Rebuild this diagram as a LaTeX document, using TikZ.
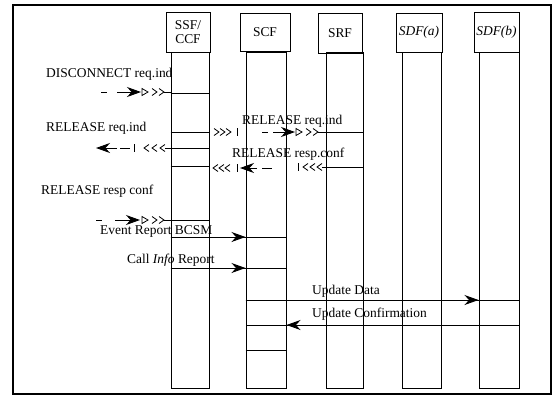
\documentclass[tikz,border=0pt]{standalone}
\usepackage{fontspec}
\setmainfont{Liberation Serif}
\usetikzlibrary{arrows.meta}
\newcommand\colline[2]{\draw[ln] (#1.west|-0,#2) -- (#1.east|-0,#2);}
\begin{document}
\begin{tikzpicture}[x=1bp,y=-1bp,
  ln/.style={line width=1bp},
  hdr/.style={draw, line width=1bp, inner sep=0pt, align=center, font=\fontsize{13.5}{14}\selectfont},
  col/.style={draw, line width=1bp, inner sep=0pt, minimum height=336bp, anchor=north},
  lbl/.style={inner sep=0pt, anchor=base west, font=\fontsize{13.5}{15}\selectfont},
  msg/.style={line width=1bp, -{Stealth[length=14bp,width=10bp,inset=4.5bp]}},
  mtri/.pic={\draw[line width=0.8bp] (0,-3.5) -- (6,0) -- (0,3.5) -- cycle;},
  mchr/.pic={\draw[line width=0.8bp] (0,-3.5) -- (5,0) -- (0,3.5);},
  mchl/.pic={\draw[line width=0.8bp] (5,-3.5) -- (0,0) -- (5,3.5);},
  mtick/.pic={\draw[line width=1bp] (0,-4) -- (0,4);}
]
\useasboundingbox (0,0) rectangle (558,406);
\draw[line width=1.1bp] (13,5) rectangle (551,394);

% headers
\node[hdr, minimum width=44bp, minimum height=40bp] (ssfh) at (188,32) {SSF/\\CCF};
\node[hdr, minimum width=50bp, minimum height=38bp] (scfh) at (265,32.5) {SCF};
\node[hdr, minimum width=44bp, minimum height=40bp] (srfh) at (340,33) {SRF};
\node[hdr, minimum width=46bp, minimum height=39bp] (sdfah) at (419,32.5) {\itshape SDF(a)};
\node[hdr, minimum width=45bp, minimum height=40bp] (sdfbh) at (496.5,32) {\itshape SDF(b)};

% lifelines
\node[col, minimum width=38bp] (ssf) at (190,52) {};
\node[col, minimum width=40bp] (scf) at (266,52) {};
\node[col, minimum width=37bp] (srf) at (344.5,52) {};
\node[col, minimum width=39bp] (sdfa) at (421.5,52) {};
\node[col, minimum width=40bp] (sdfb) at (499,52) {};

% DISCONNECT req.ind
\node[lbl] (t1) at (46,77) {DISCONNECT req.ind};
\coordinate (a1) at (101,92);
\draw[ln] (a1) -- ++(6,0);
\coordinate (a1s) at (117,92);
\draw[msg] (a1s) -- ++(24,0);
\pic at (142,92) {mtri};
\pic at (152,92) {mchr};
\pic at (159,92) {mchr};
\draw[ln] (164,92) -- (ssf.west|-0,92);
\colline{ssf}{93}

% RELEASE req.ind (left, outgoing from SSF to SCF)
\node[lbl] (t2) at (46,131) {RELEASE req.ind};
\colline{ssf}{132}
\pic at (214,132) {mchr};
\pic at (220,132) {mchr};
\pic at (226,132) {mchr};
\pic at (237,132) {mtick};
% SCF relays to SRF
\node[lbl] (t3) at (242,124) {RELEASE req.ind};
\draw[ln] (262,132) -- (268,132);
\draw[msg] (273,132) -- (295,132);
\pic at (296,132) {mtri};
\pic at (306,132) {mchr};
\pic at (313,132) {mchr};
\draw[ln] (318,132) -- (srf.west|-0,132);
\colline{srf}{132}

% RELEASE req.ind to the left from SSF
\colline{ssf}{148}
\pic at (134,148) {mtick};
\pic at (144,148) {mchl};
\pic at (152,148) {mchl};
\pic at (160,148) {mchl};
\draw[ln] (165,148) -- (ssf.west|-0,148);
\draw[ln] (120,148) -- (130,148);
\draw[msg] (117,148) -- (96,148);

% RELEASE resp.conf SRF -> SCF -> SSF
\node[lbl] (t4) at (232,157) {RELEASE resp.conf};
\colline{srf}{167}
\pic at (298,167) {mtick};
\pic at (303,167) {mchl};
\pic at (310,167) {mchl};
\pic at (317,167) {mchl};
\draw[ln] (322,167) -- (srf.west|-0,167);
\draw[ln] (262,168) -- (272,168);
\draw[msg] (257,168) -- (240,168);
\pic at (237,168) {mtick};
\pic at (213,168) {mchl};
\pic at (219,168) {mchl};
\pic at (225,168) {mchl};
\colline{ssf}{166}

% RELEASE resp conf (incoming to SSF)
\node[lbl] (t5) at (41,194) {RELEASE resp conf};
\draw[ln] (96,220) -- (102,220);
\draw[msg] (115,220) -- (140,220);
\pic at (142,220) {mtri};
\pic at (152,220) {mchr};
\pic at (159,220) {mchr};
\draw[ln] (164,220) -- (ssf.west|-0,220);
\colline{ssf}{220}

% Event Report BCSM
\node[lbl] (t6) at (100,234) {Event Report BCSM};
\draw[ln] (ssf.west|-0,237) -- (scf.east|-0,237);
\draw[msg] (ssf.west|-0,237) -- (scf.west|-0,237);

% Call Info Report
\node[lbl] (t7) at (127,263) {Call \textit{Info} Report};
\draw[ln] (ssf.west|-0,268) -- (scf.east|-0,268);
\draw[msg] (ssf.west|-0,268) -- (scf.west|-0,268);

% Update Data
\node[lbl] (t8) at (312,294) {Update Data};
\draw[ln] (scf.west|-0,300) -- (sdfb.east|-0,300);
\draw[msg] (scf.west|-0,300) -- (sdfb.west|-0,300);

% Update Confirmation
\node[lbl] (t9) at (312,317) {Update Confirmation};
\draw[ln] (sdfb.east|-0,325) -- (scf.west|-0,325);
\draw[msg] (sdfb.east|-0,325) -- (scf.east|-0,325);

\colline{scf}{350}
\end{tikzpicture}
\end{document}
